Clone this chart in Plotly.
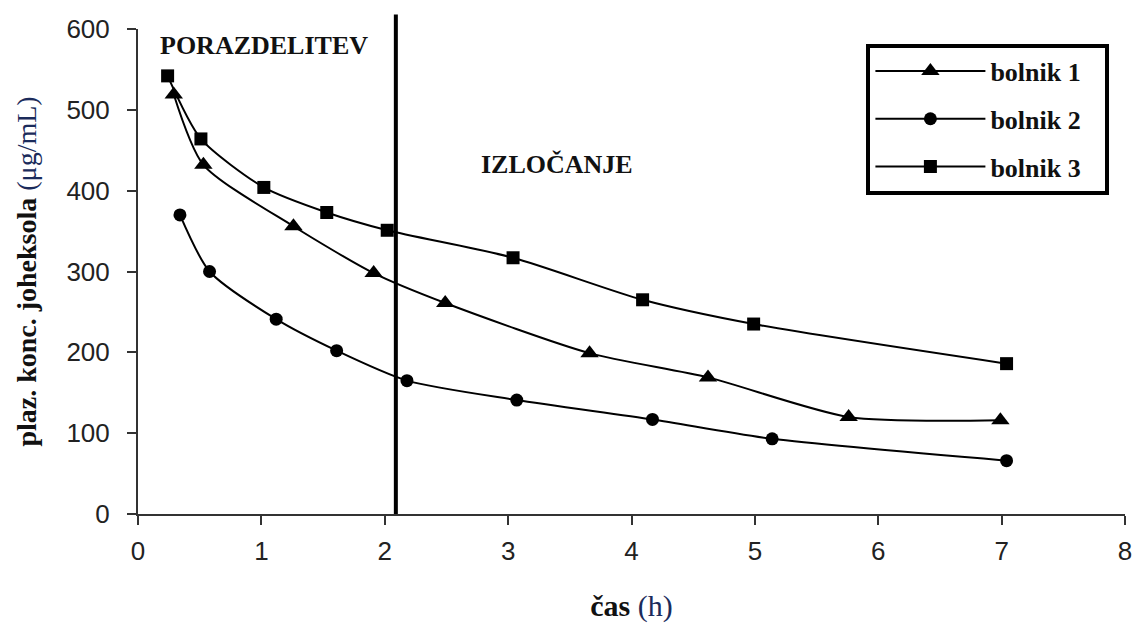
import plotly.graph_objects as go

# Data
b1_x = [0.29, 0.53, 1.26, 1.91, 2.49, 3.66, 4.62, 5.76, 6.99]
b1_y = [519, 432, 356, 298, 261, 199, 169, 120, 116]
b2_x = [0.34, 0.58, 1.12, 1.61, 2.18, 3.07, 4.17, 5.14, 7.04]
b2_y = [370, 300, 241, 202, 165, 141, 117, 93, 66]
b3_x = [0.24, 0.51, 1.02, 1.53, 2.02, 3.04, 4.09, 4.99, 7.04]
b3_y = [542, 464, 404, 373, 351, 317, 265, 235, 186]
series_names = ["bolnik 1", "bolnik 2", "bolnik 3"]
phase_boundary = 2.09
phase_labels = ["PORAZDELITEV", "IZLOČANJE"]
x_ticks = [0, 1, 2, 3, 4, 5, 6, 7, 8]
y_ticks = [0, 100, 200, 300, 400, 500, 600]

SERIF = "Liberation Serif, Times New Roman, serif"
SANS = "Liberation Sans, Arial, sans-serif"

fig = go.Figure()
for xs, ys, name, sym, size, grp in [
    (b1_x, b1_y, series_names[0], "triangle-up", 16, "g1"),
    (b2_x, b2_y, series_names[1], "circle", 13, "g2"),
    (b3_x, b3_y, series_names[2], "square", 13, "g3"),
]:
    fig.add_trace(go.Scatter(
        x=xs, y=ys, name="<b>" + name + "</b>\u00a0\u00a0\u00a0", mode="lines+markers",
        legendgroup=grp,
        line=dict(color="black", width=2, shape="spline", smoothing=0.7),
        marker=dict(symbol=sym, size=size, color="black"),
        cliponaxis=False,
    ))

fig.add_shape(type="line", xref="x", yref="paper",
              x0=phase_boundary, x1=phase_boundary, y0=0, y1=1.03,
              line=dict(color="black", width=4))

fig.add_annotation(x=0.16, y=580, xref="x", yref="y", text="<b>" + phase_labels[0] + "</b>",
                   showarrow=False, xanchor="left", yanchor="middle",
                   font=dict(family=SERIF, size=26, color="#111"))
fig.add_annotation(x=3.4, y=432, xref="x", yref="y", text="<b>" + phase_labels[1] + "</b>",
                   showarrow=False, xanchor="center", yanchor="middle",
                   font=dict(family=SERIF, size=26, color="#111"))

fig.update_layout(
    width=1136, height=624,
    margin=dict(l=138, r=11, t=29, b=110, autoexpand=False),
    paper_bgcolor="white", plot_bgcolor="white",
    showlegend=True,
    legend=dict(
        x=0.738, y=0.97, xanchor="left", yanchor="top",
        bgcolor="white", bordercolor="black", borderwidth=4,
        font=dict(family=SERIF, size=26, color="#111"),
        tracegroupgap=11, itemwidth=110,
    ),
    xaxis=dict(
        range=[0, 8], tickvals=x_ticks, ticktext=[str(v) for v in x_ticks],
        showgrid=False, zeroline=False, showline=True, linecolor="#333", linewidth=2,
        ticks="outside", ticklen=9, tickwidth=2, tickcolor="#333",
        tickfont=dict(family=SANS, size=26, color="#222"), ticklabelstandoff=4,
        automargin=False,
        title=dict(text="<b>čas</b> <span style='color:#1b2b5b'>(h)</span>",
                   font=dict(family=SERIF, size=30, color="#111"), standoff=30),
    ),
    yaxis=dict(
        range=[0, 600], tickvals=y_ticks, ticktext=[str(v) for v in y_ticks],
        showgrid=False, zeroline=False, showline=True, linecolor="#333", linewidth=2,
        ticks="outside", ticklen=9, tickwidth=2, tickcolor="#333",
        tickfont=dict(family=SANS, size=26, color="#222"), ticklabelstandoff=12,
        automargin=False,
        title=dict(text="<b>plaz. konc. joheksola</b> <span style='color:#1b2b5b'>(μg/mL)</span>",
                   font=dict(family=SERIF, size=28, color="#111"), standoff=22),
    ),
)

fig.write_html("out.html")
